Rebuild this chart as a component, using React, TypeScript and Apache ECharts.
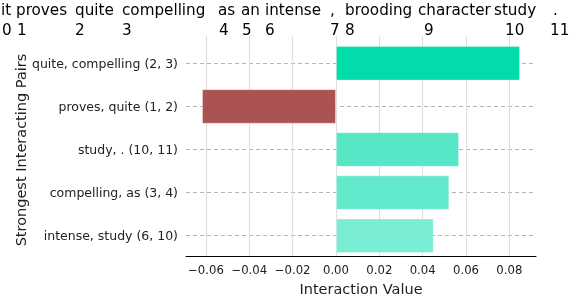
import React, { useEffect, useRef } from "react";
import * as echarts from "echarts";

const pairLabels = [
  "quite, compelling (2, 3)",
  "proves, quite (1, 2)",
  "study, . (10, 11)",
  "compelling, as (3, 4)",
  "intense, study (6, 10)",
];
const interactionValues = [0.0849, -0.0618, 0.0568, 0.0523, 0.0451];
const barColors = ["#02dcab", "#ab5253", "#55e7c6", "#63e9cb", "#79eed5"];

const tokens = ["it", "proves", "quite", "compelling", "as", "an", "intense", ",", "brooding", "character", "study", "."];
const tokenIndices = ["0", "1", "2", "3", "4", "5", "6", "7", "8", "9", "10", "11"];

// layout (pixel positions of the header words and their index numbers)
const tokenX = [1, 16, 75, 122, 218, 241, 265, 330, 345, 418, 494, 553];
const indexX = [2, 17, 75, 122, 219, 242, 265, 330, 345, 424, 505, 550];

const xMin = -0.0692;
const xMax = 0.0923;
const FONT = "DejaVu Sans";
const HEAD_SIZE = 15.2;

export default function App() {
  const ref = useRef<HTMLDivElement>(null);
  useEffect(() => {
    if (!ref.current) return;
    const chart = echarts.init(ref.current, undefined, { renderer: "svg" });
    const graphics: any[] = [];
    tokens.forEach((t, i) => {
      graphics.push({
        type: "text",
        x: tokenX[i],
        y: 10,
        style: { text: t, fontSize: HEAD_SIZE, fontFamily: FONT, fill: "#000", align: "left", verticalAlign: "middle" },
      });
    });
    tokenIndices.forEach((t, i) => {
      graphics.push({
        type: "text",
        x: indexX[i],
        y: 29.5,
        style: { text: t, fontSize: HEAD_SIZE, fontFamily: FONT, fill: "#000", align: "left", verticalAlign: "middle" },
      });
    });
    graphics.push({
      type: "text",
      x: 21,
      y: 150,
      rotation: Math.PI / 2,
      style: {
        text: "Strongest Interacting Pairs",
        fontSize: 14.5,
        fontFamily: FONT,
        fill: "#222",
        align: "center",
        verticalAlign: "middle",
      },
    });
    chart.setOption({
      animation: false,
      textStyle: { fontFamily: FONT },
      grid: [
        { left: 186, right: 45, top: 36, bottom: 38.3 },
        { left: 186, right: 45, top: 63.3, bottom: 65.3 },
      ],
      xAxis: [
        {
          type: "value",
          gridIndex: 0,
          min: xMin,
          max: xMax,
          splitNumber: 8,
          axisLine: { show: true, lineStyle: { color: "#000", width: 1 } },
          axisTick: { show: false },
          axisLabel: {
            showMinLabel: false,
            showMaxLabel: false,
            fontSize: 11.7,
            color: "#222",
            margin: 8,
            fontFamily: FONT,
            formatter: (v: number) => v.toFixed(2).replace("-", "\u2212"),
          },
          splitLine: {
            show: true,
            showMinLine: false,
            showMaxLine: false,
            lineStyle: { color: "#dddddd", width: 1 },
          },
          name: "Interaction Value",
          nameLocation: "middle",
          nameGap: 23,
          nameTextStyle: { fontSize: 14.5, color: "#222", fontFamily: FONT },
        },
        { type: "value", gridIndex: 1, min: xMin, max: xMax, show: false },
      ],
      yAxis: [
        { type: "value", gridIndex: 0, show: false },
        {
          type: "category",
          gridIndex: 1,
          data: pairLabels,
          inverse: true,
          boundaryGap: false,
          axisLine: { show: false },
          axisTick: { show: false },
          axisLabel: { interval: 0, fontSize: 12.5, color: "#222", margin: 8, fontFamily: FONT },
          splitLine: {
            show: true,
            interval: 0,
            lineStyle: { color: "#b4b4b4", width: 1, type: [4, 3] },
          },
        },
      ],
      series: [
        {
          type: "bar",
          xAxisIndex: 1,
          yAxisIndex: 1,
          clip: false,
          barWidth: "80%",
          data: interactionValues.map((v, i) => ({
            value: v,
            itemStyle: { color: barColors[i], borderColor: "rgba(255,255,255,0.3)", borderWidth: 1 },
          })),
        },
      ],
      graphic: graphics,
    });
    return () => chart.dispose();
  }, []);
  return <div ref={ref} style={{ position: "fixed", left: 0, top: 0, width: 581, height: 301 }} />;
}
